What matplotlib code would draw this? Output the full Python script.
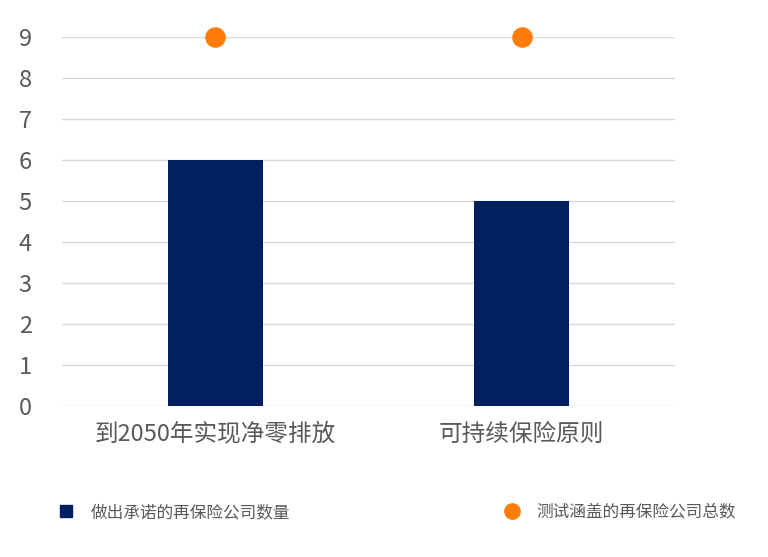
import matplotlib
matplotlib.use('Agg')
import matplotlib.pyplot as plt
from matplotlib.lines import Line2D
import numpy as np

plt.rcParams['font.family'] = ['Noto Sans CJK SC', 'DejaVu Sans']

categories = ['到2050年实现净零排放', '可持续保险原则']
committed = [6, 5]
tested = [9, 9]
series_names = ['做出承诺的再保险公司数量', '测试涵盖的再保险公司总数']

fig = plt.figure(figsize=(7.68, 5.57), dpi=100)
ax = fig.add_axes([0.081, 0.271, 0.798, 0.663])

x = np.arange(len(categories))
ax.bar(x, committed, width=0.31, color='#002060', zorder=3)
ax.scatter(x, tested, s=190, color='#FF7C0A', zorder=4, clip_on=False)

ax.set_xlim(-0.5, 1.5)
ax.set_ylim(0, 9)
ax.set_yticks(range(10))
ax.set_xticks(x)
ax.set_xticklabels(categories, fontsize=17, color='#595959')
ax.tick_params(axis='y', labelsize=17, labelcolor='#595959', length=0, pad=22)
ax.tick_params(axis='x', length=0, pad=12)
ax.grid(axis='y', color='#D9D9D9', linewidth=1, zorder=0)
for s in ax.spines.values():
    s.set_visible(False)

h1 = Line2D([], [], marker='s', linestyle='none', color='#002060', markersize=8)
h2 = Line2D([], [], marker='o', linestyle='none', color='#FF7C0A', markersize=11)
leg1 = fig.legend([h1], [series_names[0]], loc='center left', bbox_to_anchor=(0.045, 0.08),
                  frameon=False, fontsize=12, handletextpad=0.5, labelcolor='#595959')
fig.legend([h2], [series_names[1]], loc='center left', bbox_to_anchor=(0.625, 0.08),
           frameon=False, fontsize=12, handletextpad=0.5, labelcolor='#595959')

fig.savefig('out.png', dpi=100)
